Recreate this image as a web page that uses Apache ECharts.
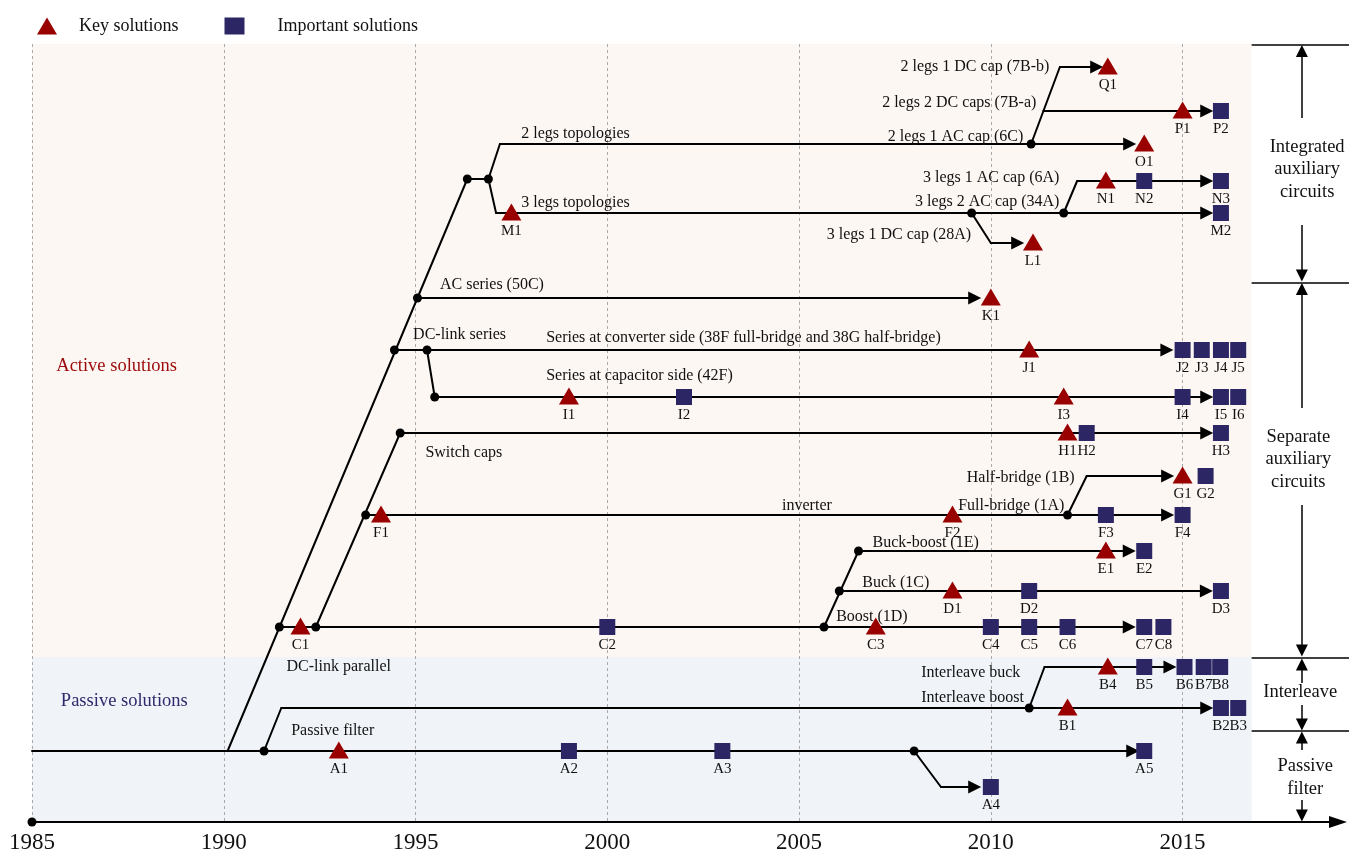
<!DOCTYPE html>
<html>
<head>
<meta charset="utf-8">
<script src="https://cdn.jsdelivr.net/npm/echarts@6/dist/echarts.min.js"></script>
<style>html,body{margin:0;padding:0;background:#fff}#chart{width:1349px;height:854px}</style>
</head>
<body>
<div id="chart"></div>
<script>
// years on x, lanes (rows of the timeline) on y, top = small
var yearTicks = [1985, 1990, 1995, 2000, 2005, 2010, 2015];

// key solutions (triangles)
var keyNames = ['A1','B1','B4','C1','C3','D1','E1','F1','F2','G1','H1','I1','I3','J1','K1','L1','M1','N1','O1','P1','Q1'];
var keyYears = [1993.0,2012.0,2013.05,1992.0,2007.0,2009.0,2013.0,1994.1,2009.0,2015.0,2012.0,1999.0,2011.9,2011.0,2010.0,2011.1,1997.5,2013.0,2014.0,2015.0,2013.05];
var keyLanes = [751,708,667,627,627,591,551,515,515,476,433,397,397,350,298,243,213,181,144,111,67];

// important solutions (squares)
var impNames = ['A2','A3','A4','A5','B2','B3','B5','B6','B7','B8','C2','C4','C5','C6','C7','C8','D2','D3','E2','F3','F4','G2','H2','H3','I2','I4','I5','I6','J2','J3','J4','J5','M2','N2','N3','P2'];
var impYears = [1999.0,2003.0,2010.0,2014.0,2016.0,2016.45,2014.0,2015.05,2015.55,2015.98,2000.0,2010.0,2011.0,2012.0,2014.0,2014.5,2011.0,2016.0,2014.0,2013.0,2015.0,2015.6,2012.5,2016.0,2002.0,2015.0,2016.0,2016.45,2015.0,2015.5,2016.0,2016.45,2016.0,2014.0,2016.0,2016.0];
var impLanes = [751,751,787,751,708,708,667,667,667,667,627,627,627,627,627,627,591,591,551,515,515,476,433,433,397,397,397,397,350,350,350,350,213,181,181,111];

// branching points
var joints = [[1985,822],[1991.45,627],[1992.4,627],[1993.7,515],[1994.6,433],[1994.45,350],[1995.3,350],[1995.5,397],
  [1995.05,298],[1996.35,179],[1996.9,179],[2011.05,144],[2009.5,213],[2011.9,213],[2005.65,627],[2006.05,591],
  [2006.55,551],[2012.0,515],[1991.05,751],[2008.0,751],[2011.0,708]];

// branches ending with an arrow
var arrowPaths = [
  [[1985,751],[2013.7,751]],
  [[2008.0,751],[2008.7,787],[2009.58,787]],
  [[1991.05,751],[1991.5,708],[2015.63,708]],
  [[2011.0,708],[2011.4,667],[2014.67,667]],
  [[1991.45,627],[2013.61,627]],
  [[2006.05,591],[2015.62,591]],
  [[2006.55,551],[2013.61,551]],
  [[1993.7,515],[2014.61,515]],
  [[2012.0,515],[2012.5,476],[2014.61,476]],
  [[1994.6,433],[2015.63,433]],
  [[1995.3,350],[1995.5,397],[2015.63,397]],
  [[1994.45,350],[2014.59,350]],
  [[1995.05,298],[2009.58,298]],
  [[1996.9,179],[1997.1,213],[2015.63,213]],
  [[2009.5,213],[2010.0,243],[2010.7,243]],
  [[2011.9,213],[2012.25,181],[2015.63,181]],
  [[1996.9,179],[1997.2,144],[2013.62,144]],
  [[2011.05,144],[2011.8,67],[2012.76,67]],
  [[2011.37,111],[2015.63,111]]
];
// trunks without arrow
var plainPaths = [
  [[1990.1,751],[1996.35,179],[1996.9,179]],
  [[1992.4,627],[1994.6,433]],
  [[2005.65,627],[2006.55,551]]
];

// branch names: text, year, lane, anchor
var notes = [
  ['2 legs topologies',1997.77,134,'left'],
  ['3 legs topologies',1997.77,203,'left'],
  ['AC series (50C)',1995.65,285,'left'],
  ['DC-link series',1994.95,335,'left'],
  ['Series at converter side (38F full-bridge and 38G half-bridge)',1998.42,338,'left'],
  ['Series at capacitor side (42F)',1998.42,376,'left'],
  ['Switch caps',1995.27,453,'left'],
  ['inverter',2004.57,506,'left'],
  ['Buck-boost (1E)',2006.93,543,'left'],
  ['Buck (1C)',2006.66,583,'left'],
  ['Boost (1D)',2005.98,617,'left'],
  ['DC-link parallel',1991.65,667,'left'],
  ['Interleave buck',2008.2,673,'left'],
  ['Interleave boost',2008.2,698,'left'],
  ['Passive filter',1991.77,731,'left'],
  ['2 legs 1 DC cap (7B-b)',2011.54,67,'right'],
  ['2 legs 2 DC caps (7B-a)',2011.2,103,'right'],
  ['2 legs 1 AC cap (6C)',2010.86,137,'right'],
  ['3 legs 1 AC cap (6A)',2011.8,178,'right'],
  ['3 legs 2 AC cap (34A)',2011.8,202,'right'],
  ['3 legs 1 DC cap (28A)',2009.5,235,'right'],
  ['Full-bridge (1A)',2011.93,506,'right'],
  ['Half-bridge (1B)',2012.2,478,'right']
];

// shaded zones
var zoneNames = ['Active solutions','Passive solutions'];
var zoneTop = [44,657];
var zoneBottom = [657,822];
var zoneStart = 1985, zoneEnd = 2016.8;
var zoneLabelYears = [1987.22,1987.42];
var zoneLabelLanes = [367,702];

// right side groups
var groupNames = ['Integrated\nauxiliary\ncircuits','Separate\nauxiliary\ncircuits','Interleave','Passive\nfilter'];
var groupYears = [2018.26,2018.03,2018.08,2018.21];
var groupLanes = [170,460,693,778];
var groupRules = [44.5,282.5,658,731];
var groupArrowYear = 2018.11;
var groupArrows = [[118,51],[225,275.5],[408,289],[505,650.5],[683,664.5],[705,724.5],[750,737.5],[800,815.5]];

var FONT = "'Liberation Serif','Times New Roman',serif";
var RED = '#990000', NAVY = '#2c2664';
var zoneColors = ['#fdf7f3','#f0f4f9'];
var zoneTextColors = ['#9b0b0b','#2f2a6c'];

// polyline series cannot carry arrows, so the last leg of each branch is drawn on its own
var bodies = plainPaths.concat(arrowPaths.filter(function (p) { return p.length > 2; })
  .map(function (p) { return p.slice(0, -1); }));
var heads = arrowPaths.map(function (p) { return p.slice(-2); });

var chart = echarts.init(document.getElementById('chart'));

var labelBase = { show: true, fontFamily: FONT, color: '#111', opacity: 1 };

var option = {
  animation: false,
  backgroundColor: '#fff',
  grid: { left: 32, right: 13, top: 44, bottom: 32 },
  legend: {
    left: 32, top: 12, itemWidth: 20, itemHeight: 17, itemGap: 46, selectedMode: false,
    data: [
      { name: 'Key solutions', textStyle: { padding: [0,0,0,17] } },
      { name: 'Important solutions', textStyle: { padding: [0,0,0,28] } }
    ],
    textStyle: { fontSize: 18, fontFamily: FONT, color: '#111' }
  },
  xAxis: {
    type: 'value', min: 1985, max: 2019, interval: 5,
    axisLine: { show: true, lineStyle: { color: '#000', width: 2 }, symbol: ['none','triangle'], symbolSize: [12,18], symbolOffset: [0,2] },
    axisTick: { show: false },
    axisLabel: { fontSize: 23, color: '#111', fontFamily: FONT, margin: 9, showMaxLabel: false,
      formatter: function (v) { return yearTicks.indexOf(v) >= 0 ? String(v) : ''; } },
    splitLine: { show: true, showMaxLine: false, lineStyle: { type: [3,3], color: '#aaa', width: 1 } }
  },
  yAxis: { type: 'value', min: 44, max: 822, inverse: true, show: false, splitLine: { show: false } },
  series: [
    {
      type: 'custom', name: 'zones', z: -1, silent: true,
      data: zoneNames.map(function (n, i) { return [zoneStart, zoneEnd, zoneTop[i], zoneBottom[i]]; }),
      encode: { x: [0,1], y: [2,3] },
      renderItem: function (params, api) {
        var p1 = api.coord([api.value(0), api.value(2)]);
        var p2 = api.coord([api.value(1), api.value(3)]);
        return { type: 'rect', shape: { x: p1[0], y: p1[1], width: p2[0]-p1[0], height: p2[1]-p1[1] },
          style: { fill: zoneColors[params.dataIndex] } };
      }
    },
    {
      type: 'lines', coordinateSystem: 'cartesian2d', polyline: true, silent: true, z: 2, clip: false,
      data: bodies.map(function (p) { return { coords: p }; }),
      lineStyle: { color: '#000', width: 2, opacity: 1, join: 'round', cap: 'round' }
    },
    {
      type: 'lines', coordinateSystem: 'cartesian2d', silent: true, z: 2, clip: false,
      data: heads.map(function (p) { return { coords: p }; }),
      symbol: ['none','triangle'], symbolSize: 13,
      lineStyle: { color: '#000', width: 2, opacity: 1, cap: 'round' }
    },
    {
      type: 'lines', coordinateSystem: 'cartesian2d', silent: true, z: 2, clip: false,
      data: groupRules.map(function (y) { return { coords: [[zoneEnd, y], [2019.4, y]] }; }),
      lineStyle: { color: '#000', width: 1.5, opacity: 1 }
    },
    {
      type: 'lines', coordinateSystem: 'cartesian2d', silent: true, z: 2, clip: false,
      data: groupArrows.map(function (a) { return { coords: [[groupArrowYear, a[0]], [groupArrowYear, a[1]]] }; }),
      symbol: ['none','triangle'], symbolSize: 12,
      lineStyle: { color: '#000', width: 1.5, opacity: 1 }
    },
    {
      type: 'scatter', name: 'joints', silent: true, z: 3, clip: false,
      symbol: 'circle', symbolSize: 9, itemStyle: { color: '#000', opacity: 1 },
      data: joints
    },
    {
      type: 'scatter', name: 'Key solutions', silent: true, z: 4, clip: false,
      symbol: 'triangle', symbolSize: [20,17], symbolOffset: [0,-1], itemStyle: { color: RED, opacity: 1 },
      data: keyNames.map(function (n, i) { return { name: n, value: [keyYears[i], keyLanes[i]] }; }),
      label: Object.assign({}, labelBase, { position: 'bottom', distance: 3, formatter: '{b}', fontSize: 15 })
    },
    {
      type: 'scatter', name: 'Important solutions', silent: true, z: 4, clip: false,
      symbol: 'rect', symbolSize: 16, itemStyle: { color: NAVY, opacity: 1 },
      data: impNames.map(function (n, i) { return { name: n, value: [impYears[i], impLanes[i]] }; }),
      label: Object.assign({}, labelBase, { position: 'bottom', distance: 3, formatter: '{b}', fontSize: 15 })
    },
    {
      type: 'scatter', name: 'notes', silent: true, z: 5, clip: false,
      symbolSize: 1, itemStyle: { color: 'rgba(0,0,0,0)', opacity: 1 },
      data: notes.map(function (n) { return { value: [n[1], n[2]], label: { formatter: n[0], align: n[3] } }; }),
      label: Object.assign({}, labelBase, { position: [0,0], verticalAlign: 'middle', fontSize: 16 })
    },
    {
      type: 'scatter', name: 'zoneLabels', silent: true, z: 5, clip: false,
      symbolSize: 1, itemStyle: { color: 'rgba(0,0,0,0)', opacity: 1 },
      data: zoneNames.map(function (n, i) {
        return { value: [zoneLabelYears[i], zoneLabelLanes[i]], label: { formatter: n, color: zoneTextColors[i] } };
      }),
      label: Object.assign({}, labelBase, { position: [0,0], align: 'center', verticalAlign: 'middle', fontSize: 18.5 })
    },
    {
      type: 'scatter', name: 'groupLabels', silent: true, z: 5, clip: false,
      symbolSize: 1, itemStyle: { color: 'rgba(0,0,0,0)', opacity: 1 },
      data: groupNames.map(function (n, i) {
        return { value: [groupYears[i], groupLanes[i]], label: { formatter: n } };
      }),
      label: Object.assign({}, labelBase, { position: [0,0], align: 'center', verticalAlign: 'middle', fontSize: 18.5, lineHeight: 22.5 })
    }
  ]
};
option && chart.setOption(option);
</script>
</body>
</html>
